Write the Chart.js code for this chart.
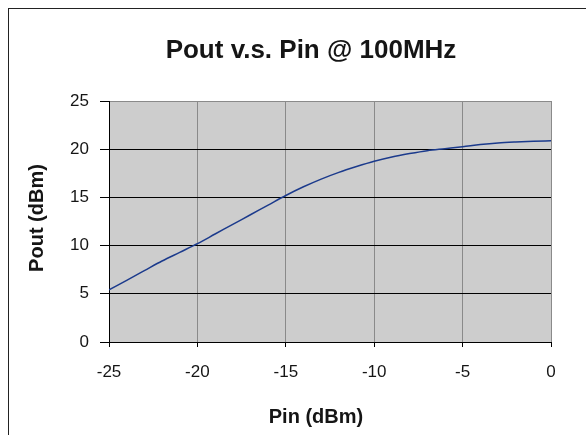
<!DOCTYPE html>
<html>
<head>
<meta charset="utf-8">
<script src="https://cdn.jsdelivr.net/npm/chart.js@4"></script>
<style>
html,body{margin:0;padding:0;background:#fff;}
#wrap{width:586px;height:435px;position:relative;}
</style>
</head>
<body>
<div id="wrap"><canvas id="c" width="586" height="435"></canvas></div>
<script>
const chartTitle = "Pout v.s. Pin @ 100MHz";
const xAxisTitle = "Pin (dBm)";
const yAxisTitle = "Pout (dBm)";
const pinValues = [-25,-24,-23,-22,-21,-20,-19,-18,-17,-16,-15,-14,-13,-12,-11,-10,-9,-8,-7,-6,-5,-4,-3,-2,-1,0];
const poutValues = [5.4,6.4,7.4,8.4,9.3,10.2,11.2,12.2,13.2,14.2,15.2,16.1,16.9,17.6,18.2,18.75,19.2,19.55,19.85,20.05,20.25,20.48,20.65,20.75,20.82,20.87];
const xMin = -25, xMax = 0, xStep = 5;
const yMin = 0, yMax = 25, yStep = 5;

const FONT = '"Liberation Sans", Arial, Helvetica, sans-serif';

const decor = {
  id: 'decor',
  beforeDraw(chart) {
    const ctx = chart.ctx, a = chart.chartArea;
    ctx.save();
    ctx.fillStyle = '#ffffff';
    ctx.fillRect(0, 0, chart.width, chart.height);
    ctx.strokeStyle = '#222222';
    ctx.lineWidth = 1;
    ctx.strokeRect(8.5, 8.5, 1000, 1000);
    ctx.fillStyle = '#cdcdcd';
    ctx.fillRect(a.left, a.top, a.right - a.left, a.bottom - a.top);
    ctx.restore();
  },
  afterDraw(chart) {
    const ctx = chart.ctx;
    ctx.save();
    ctx.fillStyle = '#151515';
    ctx.textAlign = 'center';
    ctx.textBaseline = 'middle';
    ctx.font = 'bold 26px ' + FONT;
    ctx.fillText(chartTitle, 311, 51);
    ctx.font = 'bold 20px ' + FONT;
    ctx.fillText(xAxisTitle, 316, 417);
    ctx.translate(37, 218);
    ctx.rotate(-Math.PI / 2);
    ctx.fillText(yAxisTitle, 0, 0);
    ctx.restore();
  }
};

const points = pinValues.map((p, i) => ({x: p, y: poutValues[i]}));

new Chart(document.getElementById('c'), {
  type: 'line',
  data: {
    datasets: [{
      data: points,
      borderColor: '#1b3a8c',
      borderWidth: 1.5,
      pointRadius: 0,
      fill: false,
      cubicInterpolationMode: 'monotone'
    }]
  },
  options: {
    responsive: false,
    animation: false,
    layout: { padding: { left: 0, top: 101, right: 35, bottom: 0 } },
    plugins: { legend: { display: false }, tooltip: { enabled: false }, title: { display: false } },
    scales: {
      x: {
        type: 'linear',
        min: xMin, max: xMax,
        afterFit(s) { s.height = 93; },
        ticks: { stepSize: xStep, color: '#151515', font: { family: FONT, size: 17 }, padding: 15, maxRotation: 0 },
        grid: {
          color: (c) => (c.tick && c.tick.value === xMin) ? '#000000' : '#8a8a8a',
          lineWidth: 1,
          tickLength: 5,
          tickColor: '#000000'
        },
        border: { display: true, color: '#000000', width: 1 }
      },
      y: {
        min: yMin, max: yMax,
        afterFit(s) { s.width = 109; },
        ticks: { stepSize: yStep, color: '#151515', font: { family: FONT, size: 17 }, padding: 11 },
        grid: {
          color: (c) => (c.tick && c.tick.value === yMax) ? '#8a8a8a' : '#000000',
          lineWidth: 1,
          tickLength: 9,
          tickColor: '#000000'
        },
        border: { display: true, color: '#000000', width: 1 }
      }
    }
  },
  plugins: [decor]
});
</script>
</body>
</html>
